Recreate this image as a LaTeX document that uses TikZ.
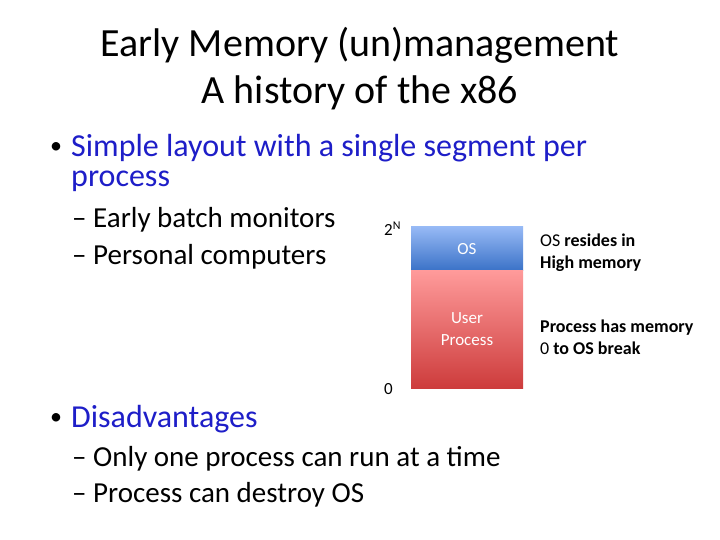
\documentclass[tikz,border=0pt]{standalone}
\usepackage{fontspec}
\setmainfont{Carlito}
\definecolor{osT}{RGB}{150,185,245}
\definecolor{osB}{RGB}{60,115,200}
\definecolor{upT}{RGB}{255,155,155}
\definecolor{upB}{RGB}{205,60,60}
\definecolor{bl}{RGB}{30,30,200}
\begin{document}
\begin{tikzpicture}[x=1pt,y=-1pt,
  tl/.style={anchor=west,inner sep=0pt,font=\fontsize{32}{34}\selectfont},
  sl/.style={anchor=west,inner sep=0pt,font=\fontsize{29}{30}\selectfont},
  sm/.style={anchor=west,inner sep=0pt,font=\fontsize{18}{22}\selectfont,align=left}]
\useasboundingbox[fill=white] (0,0) rectangle (720,540);
\node[align=center,font=\fontsize{40}{47}\selectfont] (title) at (360,69) {Early Memory (un)management\\A history of the x86};
\node[tl,font=\fontsize{24}{26}\selectfont] (b1) at (50,148) {•};
\node[tl,text=bl] (t1) at (71,148) {Simple layout with a single segment per};
\node[tl,text=bl] (t1b) at (71,181) {process};
\node[sl] (s1) at (72,220) {– Early batch monitors};
\node[sl] (s2) at (72,257) {– Personal computers};
\node[tl,font=\fontsize{24}{26}\selectfont] (b2) at (50,419) {•};
\node[tl,text=bl] (t2) at (71,419) {Disadvantages};
\node[sl] (s3) at (72,459) {– Only one process can run at a time};
\node[sl] (s4) at (72,495) {– Process can destroy OS};
\shade[top color=osT, bottom color=osB] (411,227) rectangle (523,270);
\shade[top color=upT, bottom color=upB] (411,270) rectangle (523,388);
\node[text=white,font=\fontsize{17}{18}\selectfont] (os) at (467,249) {OS};
\node[text=white,font=\fontsize{17}{22}\selectfont,align=center] (up) at (467,329) {User\\Process};
\node[anchor=west,inner sep=0pt,font=\fontsize{17}{16}\selectfont] (hi) at (384,229) {2\textsuperscript{N}};
\node[anchor=west,inner sep=0pt,font=\fontsize{17}{16}\selectfont] (lo) at (384,389) {0};
\node[sm] (l1) at (540,253) {OS \textbf{resides in}\\\textbf{High memory}};
\node[sm] (l2) at (540,337) {\textbf{Process has memory}\\0 \textbf{to OS break}};
\end{tikzpicture}
\end{document}
